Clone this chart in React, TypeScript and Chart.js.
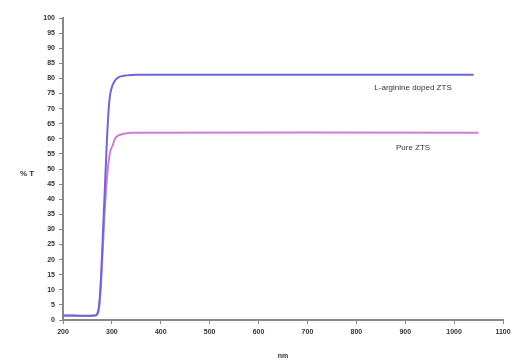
import React, { useEffect, useRef } from "react";
import { Chart, registerables } from "chart.js";

Chart.register(...registerables);

const dopedX = [200, 265, 270, 274, 278, 282, 286, 290, 294, 298, 305, 315, 330, 350, 1040];
const dopedY = [1.5, 1.5, 2, 5, 15, 30, 45, 60, 71, 76, 79, 80.5, 81, 81.2, 81.2];
const pureX = [200, 268, 273, 277, 281, 285, 289, 293, 297, 302, 308, 320, 340, 1050];
const pureY = [1.5, 1.5, 3, 10, 22, 35, 45, 52, 56, 58, 60.5, 61.5, 62, 62];
const seriesLabels = ["L-arginine doped ZTS", "Pure ZTS"];
const xTitle = "nm";
const yTitle = "% T";

export default function App() {
  const ref = useRef<HTMLCanvasElement>(null);
  useEffect(() => {
    document.body.style.margin = "0";
    const labelPlugin = {
      id: "seriesText",
      afterDraw(chart: any) {
        const { ctx, scales } = chart;
        ctx.save();
        ctx.font = "8px Arial, 'Liberation Sans', sans-serif";
        ctx.fillStyle = "#333";
        ctx.textAlign = "center";
        ctx.textBaseline = "middle";
        ctx.fillText(seriesLabels[0], scales.x.getPixelForValue(916), scales.y.getPixelForValue(76.8));
        ctx.fillText(seriesLabels[1], scales.x.getPixelForValue(916), scales.y.getPixelForValue(57));
        ctx.font = "bold 8px Arial, 'Liberation Sans', sans-serif";
        ctx.fillText(yTitle, 27, (scales.y.top + scales.y.bottom) / 2 + 5);
        ctx.restore();
      },
    };
    const chart = new Chart(ref.current!, {
      type: "line",
      data: {
        datasets: [
          {
            label: seriesLabels[0],
            data: dopedX.map((x, i) => ({ x, y: dopedY[i] })),
            borderColor: "#6b68d6",
            borderWidth: 2,
            pointRadius: 0,
            tension: 0.3,
          },
          {
            label: seriesLabels[1],
            data: pureX.map((x, i) => ({ x, y: pureY[i] })),
            borderColor: "#d27ad6",
            borderWidth: 2,
            pointRadius: 0,
            tension: 0.3,
          },
        ],
      },
      options: {
        animation: false,
        responsive: false,
        layout: { padding: { top: 18, right: 12, left: 0, bottom: 0 } },
        plugins: { legend: { display: false }, tooltip: { enabled: false } },
        scales: {
          x: {
            type: "linear",
            min: 200,
            max: 1100,
            ticks: {
              stepSize: 100,
              color: "#333",
              font: { size: 7, weight: "bold" },
              maxRotation: 0,
              padding: 4,
              callback: (v: any) => String(v),
            },
            grid: { drawOnChartArea: false, tickLength: 4, color: "#888" },
            border: { color: "#888", width: 2 },
            title: { display: true, text: xTitle, color: "#333", font: { size: 7, weight: "bold" }, padding: { top: 12 } },
            afterFit(s: any) { s.height = 44; },
          },
          y: {
            min: 0,
            max: 100,
            ticks: { stepSize: 5, color: "#333", font: { size: 7, weight: "bold" }, padding: 4, autoSkip: false },
            grid: { drawOnChartArea: false, tickLength: 4, color: "#888" },
            border: { color: "#888", width: 2 },
            afterFit(s: any) { s.width = 63; },
          },
        },
      },
      plugins: [labelPlugin],
    });
    return () => chart.destroy();
  }, []);
  return (
    <div style={{ position: "fixed", left: 0, top: 0, width: 515, height: 364, background: "#fff" }}>
      <canvas ref={ref} width={515} height={364} style={{ width: 515, height: 364 }} />
    </div>
  );
}
